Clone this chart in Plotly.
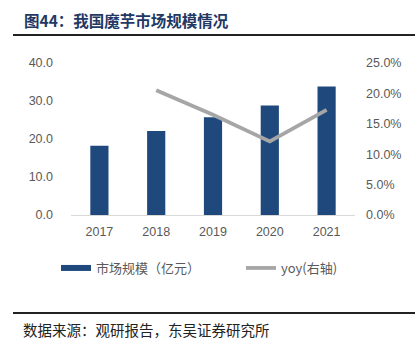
import plotly.graph_objects as go

years = ["2017", "2018", "2019", "2020", "2021"]
market_size = [18.2, 22.1, 25.7, 28.8, 33.8]
yoy_years = ["2018", "2019", "2020", "2021"]
yoy = [0.205, 0.165, 0.121, 0.173]

title_text = "<b>图44：我国魔芋市场规模情况</b>"
source_text = "数据来源：观研报告，东吴证券研究所"
bar_name = "市场规模（亿元）"
line_name = "yoy(右轴)"

bar_color = "#1F497D"
line_color = "#A6A6A6"

W, H = 420, 351
ML, MR, MT, MB = 71, 65, 63, 136
plot_h = H - MT - MB
plot_w = W - ML - MR


def py(ypx):
    return (H - MB - ypx) / plot_h


def px(xpx):
    return (xpx - ML) / plot_w


fig = go.Figure()
fig.add_trace(go.Bar(x=years, y=market_size, name=bar_name, showlegend=False,
                     marker=dict(color=bar_color, line=dict(width=0))))
# legend proxy for the bar series (wide flat swatch like the reference)
fig.add_trace(go.Scatter(x=[None], y=[None], name=bar_name, mode="lines",
                         line=dict(color=bar_color, width=6), legend="legend"))
fig.add_trace(go.Scatter(x=yoy_years, y=yoy, name=line_name, yaxis="y2",
                         mode="lines", line=dict(color=line_color, width=3.8),
                         legend="legend2"))

tickfont = dict(family="Liberation Sans, Arial", size=12.5, color="#595959")
legfont = dict(family="Noto Sans CJK SC", size=13, color="#595959")
fig.update_layout(
    width=W, height=H,
    margin=dict(l=ML, r=MR, t=MT, b=MB),
    plot_bgcolor="white", paper_bgcolor="white",
    bargap=0.68,
    showlegend=True,
    legend=dict(orientation="h", x=px(56), xanchor="left", y=py(268), yanchor="middle",
                font=legfont, itemwidth=30, bgcolor="rgba(0,0,0,0)"),
    legend2=dict(orientation="h", x=px(241), xanchor="left", y=py(268), yanchor="middle",
                 font=legfont, itemwidth=30, bgcolor="rgba(0,0,0,0)"),
    xaxis=dict(type="category", showline=True, linecolor="#D9D9D9", linewidth=1,
               ticks="", tickfont=tickfont, showgrid=False, ticklabelstandoff=5),
    yaxis=dict(range=[0, 40], dtick=10, tickformat=".1f", showgrid=False,
               zeroline=False, tickfont=tickfont, ticks="", ticklabelstandoff=17),
    yaxis2=dict(range=[0, 0.25], dtick=0.05, tickformat=".1%", overlaying="y",
                side="right", showgrid=False, zeroline=False, tickfont=tickfont,
                ticks="", ticklabelstandoff=10),
    shapes=[
        dict(type="line", xref="paper", yref="paper", x0=px(13), x1=px(415),
             y0=py(35), y1=py(35), line=dict(color="#222222", width=2)),
        dict(type="line", xref="paper", yref="paper", x0=px(13), x1=px(415),
             y0=py(313), y1=py(313), line=dict(color="#222222", width=2)),
    ],
)
fig.add_annotation(text=title_text, xref="paper", yref="paper", x=px(22), y=py(20),
                   xanchor="left", yanchor="middle", showarrow=False,
                   font=dict(family="Noto Sans CJK SC", size=15.5, color="#1F3864"))
fig.add_annotation(text=source_text, xref="paper", yref="paper", x=px(21), y=py(329),
                   xanchor="left", yanchor="middle", showarrow=False,
                   font=dict(family="Noto Sans CJK SC", size=14.5, color="#222222"))

fig.write_html("out.html")
